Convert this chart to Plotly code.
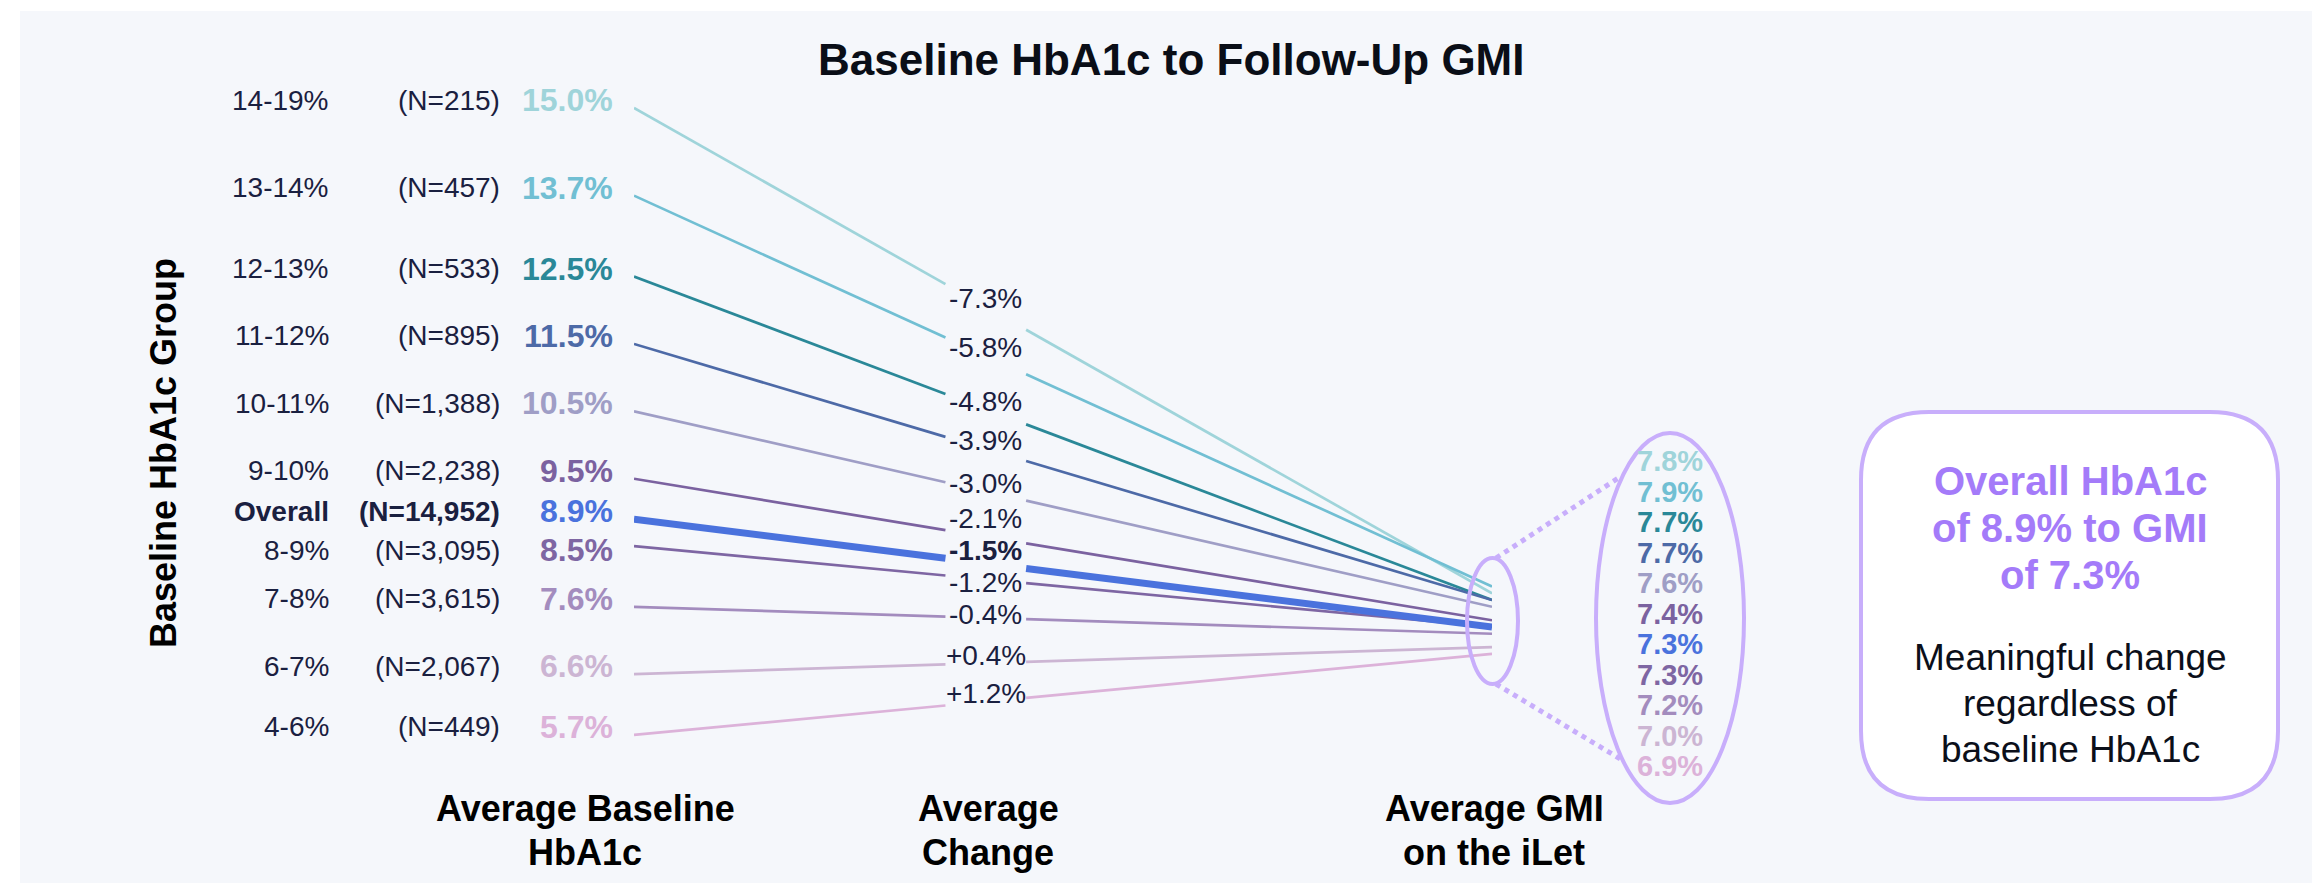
import plotly.graph_objects as go

W, H = 2320, 883

# ! data
groups = ['14-19%', '13-14%', '12-13%', '11-12%', '10-11%', '9-10%', 'Overall', '8-9%', '7-8%', '6-7%', '4-6%']
n_patients = [215, 457, 533, 895, 1388, 2238, 14952, 3095, 3615, 2067, 449]
baseline = [15.0, 13.7, 12.5, 11.5, 10.5, 9.5, 8.9, 8.5, 7.6, 6.6, 5.7]
gmi = [7.8, 7.9, 7.7, 7.7, 7.6, 7.4, 7.3, 7.3, 7.2, 7.0, 6.9]
change = [-7.3, -5.8, -4.8, -3.9, -3.0, -2.1, -1.5, -1.2, -0.4, 0.4, 1.2]
colors = ['#9fd4da', '#71bfd3', '#2a8898', '#4d6aa7', '#9f9ec6', '#7b62a0',
          '#4a72dd', '#7e66a3', '#a38cbe', '#ccb5d3', '#dcb2d9']
overall = groups.index('Overall')

FONT = 'Liberation Sans, Arial, sans-serif'
NAVY = '#1a2040'
BG = '#f5f7fb'
PURPLE_LINE = '#c8aefb'
PURPLE_TEXT = '#a47bf9'

Y_RANGE = [3.383, 16.484]   # value axis, spans the whole figure height
X0_PX, X1_PX = 626, 1484    # where the lines start / end
LABEL_T = 0.41              # where along the lines the change labels sit
GAP_T = 0.047               # half width of the cut in the lines around the labels
DY = 8                      # plotly puts 'middle' text a bit low, lift it


def px(x):
    return x / W


def py(y):
    return 1 - y / H


def val_to_px(v):
    return (Y_RANGE[1] - v) / (Y_RANGE[1] - Y_RANGE[0]) * H


def push_down(pos, gap):
    out = []
    for p in pos:
        if out and p - out[-1] < gap:
            p = out[-1] + gap
        out.append(p)
    return out


def relax(pos, gap):
    # keep a minimum gap, moving crowded labels as a centred group
    blocks = []
    for p in pos:
        blocks.append([1, p])
        while len(blocks) > 1:
            n1, s1 = blocks[-2]
            n2, s2 = blocks[-1]
            if s2 / n2 < s1 / n1 + n1 * gap:
                blocks[-2] = [n1 + n2, s1 + s2 - n1 * n2 * gap]
                blocks.pop()
            else:
                break
    out = []
    for n, s in blocks:
        out += [s / n + k * gap for k in range(n)]
    return out


def text_at(x, y, txt, size, color, **kw):
    d = dict(x=px(x), y=py(y), xref='paper', yref='paper', xanchor='center', yanchor='middle',
             text=txt, font=dict(size=size, color=color), showarrow=False, yshift=DY)
    d.update(kw)
    return d


fig = go.Figure()

order = [i for i in range(len(groups)) if i != overall] + [overall]
for i in order:
    b, g = baseline[i], gmi[i]
    ya = b + (LABEL_T - GAP_T) * (g - b)
    yb = b + (LABEL_T + GAP_T) * (g - b)
    fig.add_trace(go.Scatter(x=[0, LABEL_T - GAP_T, None, LABEL_T + GAP_T, 1], y=[b, ya, None, yb, g],
                             mode='lines', line=dict(color=colors[i], width=7 if i == overall else 2.7),
                             hoverinfo='skip', showlegend=False))

annotations = []

# left side labels
left_pos = push_down([val_to_px(v) for v in baseline], 39)
for i, g in enumerate(groups):
    bold = i == overall
    ntxt = '(N={:,})'.format(n_patients[i])
    cols = [(323, '<b>%s</b>' % g if bold else g, 28, NAVY),
            (494, '<b>%s</b>' % ntxt if bold else ntxt, 28, NAVY),
            (607, '<b>{:.1f}%</b>'.format(baseline[i]), 32, colors[i])]
    for x, txt, size, col in cols:
        annotations.append(text_at(x, left_pos[i], txt, size, col, xanchor='right'))

# change labels in the gap of each line
label_x = X0_PX + LABEL_T * (X1_PX - X0_PX)
mid_pos = relax([val_to_px(b + LABEL_T * (g - b)) for b, g in zip(baseline, gmi)], 32)
for i in range(len(groups)):
    txt = '{:+.1f}%'.format(change[i])
    annotations.append(text_at(label_x, mid_pos[i], '<b>%s</b>' % txt if i == overall else txt, 28, NAVY))

# GMI column inside the big ellipse
for i, v in enumerate(gmi):
    annotations.append(text_at(1662, 461 + i * 30.5, '<b>{:.1f}%</b>'.format(v), 29, colors[i]))

# headers
annotations.append(text_at(1163, 60, '<b>Baseline HbA1c to Follow-Up GMI</b>', 44, '#0a0e17'))
for cx, l1, l2 in [(577, 'Average Baseline', 'HbA1c'), (980, 'Average', 'Change'), (1486, 'Average GMI', 'on the iLet')]:
    annotations.append(text_at(cx, 808, '<b>%s</b>' % l1, 36, '#000000'))
    annotations.append(text_at(cx, 852, '<b>%s</b>' % l2, 36, '#000000'))
annotations.append(text_at(163, 445, '<b>Baseline HbA1c Group</b>', 36, '#000000',
                           textangle=-90, yshift=0, xshift=-DY))

# callout box text
box_title = ['Overall HbA1c', 'of {:.1f}% to GMI'.format(baseline[overall]), 'of {:.1f}%'.format(gmi[overall])]
for k, line in enumerate(box_title):
    annotations.append(text_at(2062, 481 + k * 47, '<b>%s</b>' % line, 40, PURPLE_TEXT))
for k, line in enumerate(['Meaningful change', 'regardless of', 'baseline HbA1c']):
    annotations.append(text_at(2062, 657 + k * 46, line, 37, '#0b0f1a'))

shapes = []
shapes.append(dict(type='rect', xref='paper', yref='paper', x0=px(12), x1=1, y0=0, y1=py(3),
                   fillcolor=BG, line_width=0, layer='below'))
# small and big ellipse
shapes.append(dict(type='circle', xref='paper', yref='paper', x0=px(1459), x1=px(1510), y0=py(676), y1=py(550),
                   line=dict(color=PURPLE_LINE, width=4)))
shapes.append(dict(type='circle', xref='paper', yref='paper', x0=px(1588), x1=px(1736), y0=py(795), y1=py(425),
                   line=dict(color=PURPLE_LINE, width=4)))
# dotted connectors
shapes.append(dict(type='line', xref='paper', yref='paper', x0=px(1488), y0=py(550), x1=px(1612), y1=py(469),
                   line=dict(color=PURPLE_LINE, width=5, dash='dot')))
shapes.append(dict(type='line', xref='paper', yref='paper', x0=px(1488), y0=py(676), x1=px(1614), y1=py(752),
                   line=dict(color=PURPLE_LINE, width=5, dash='dot')))

# rounded callout box
x0, y0, x1, y1, r = 1853, 404, 2270, 791, 68
pts = [('M', x0 + r, y0), ('L', x1 - r, y0), ('Q', x1, y0, x1, y0 + r), ('L', x1, y1 - r),
       ('Q', x1, y1, x1 - r, y1), ('L', x0 + r, y1), ('Q', x0, y1, x0, y1 - r), ('L', x0, y0 + r),
       ('Q', x0, y0, x0 + r, y0)]
path = ''
for p in pts:
    coords = p[1:]
    seg = ' '.join('%.5f,%.5f' % (px(coords[j]), py(coords[j + 1])) for j in range(0, len(coords), 2))
    path += '%s %s ' % (p[0], seg)
path += 'Z'
shapes.append(dict(type='path', xref='paper', yref='paper', path=path, fillcolor='#ffffff',
                   line=dict(color=PURPLE_LINE, width=4), layer='below'))

fig.update_layout(width=W, height=H, margin=dict(l=0, r=0, t=0, b=0),
                  paper_bgcolor='#ffffff', plot_bgcolor='rgba(0,0,0,0)',
                  font=dict(family=FONT), showlegend=False,
                  annotations=annotations, shapes=shapes)
fig.update_xaxes(domain=[px(X0_PX), px(X1_PX)], range=[0, 1], visible=False, fixedrange=True)
fig.update_yaxes(domain=[0, 1], range=Y_RANGE, visible=False, fixedrange=True)

fig.write_html('out.html')
